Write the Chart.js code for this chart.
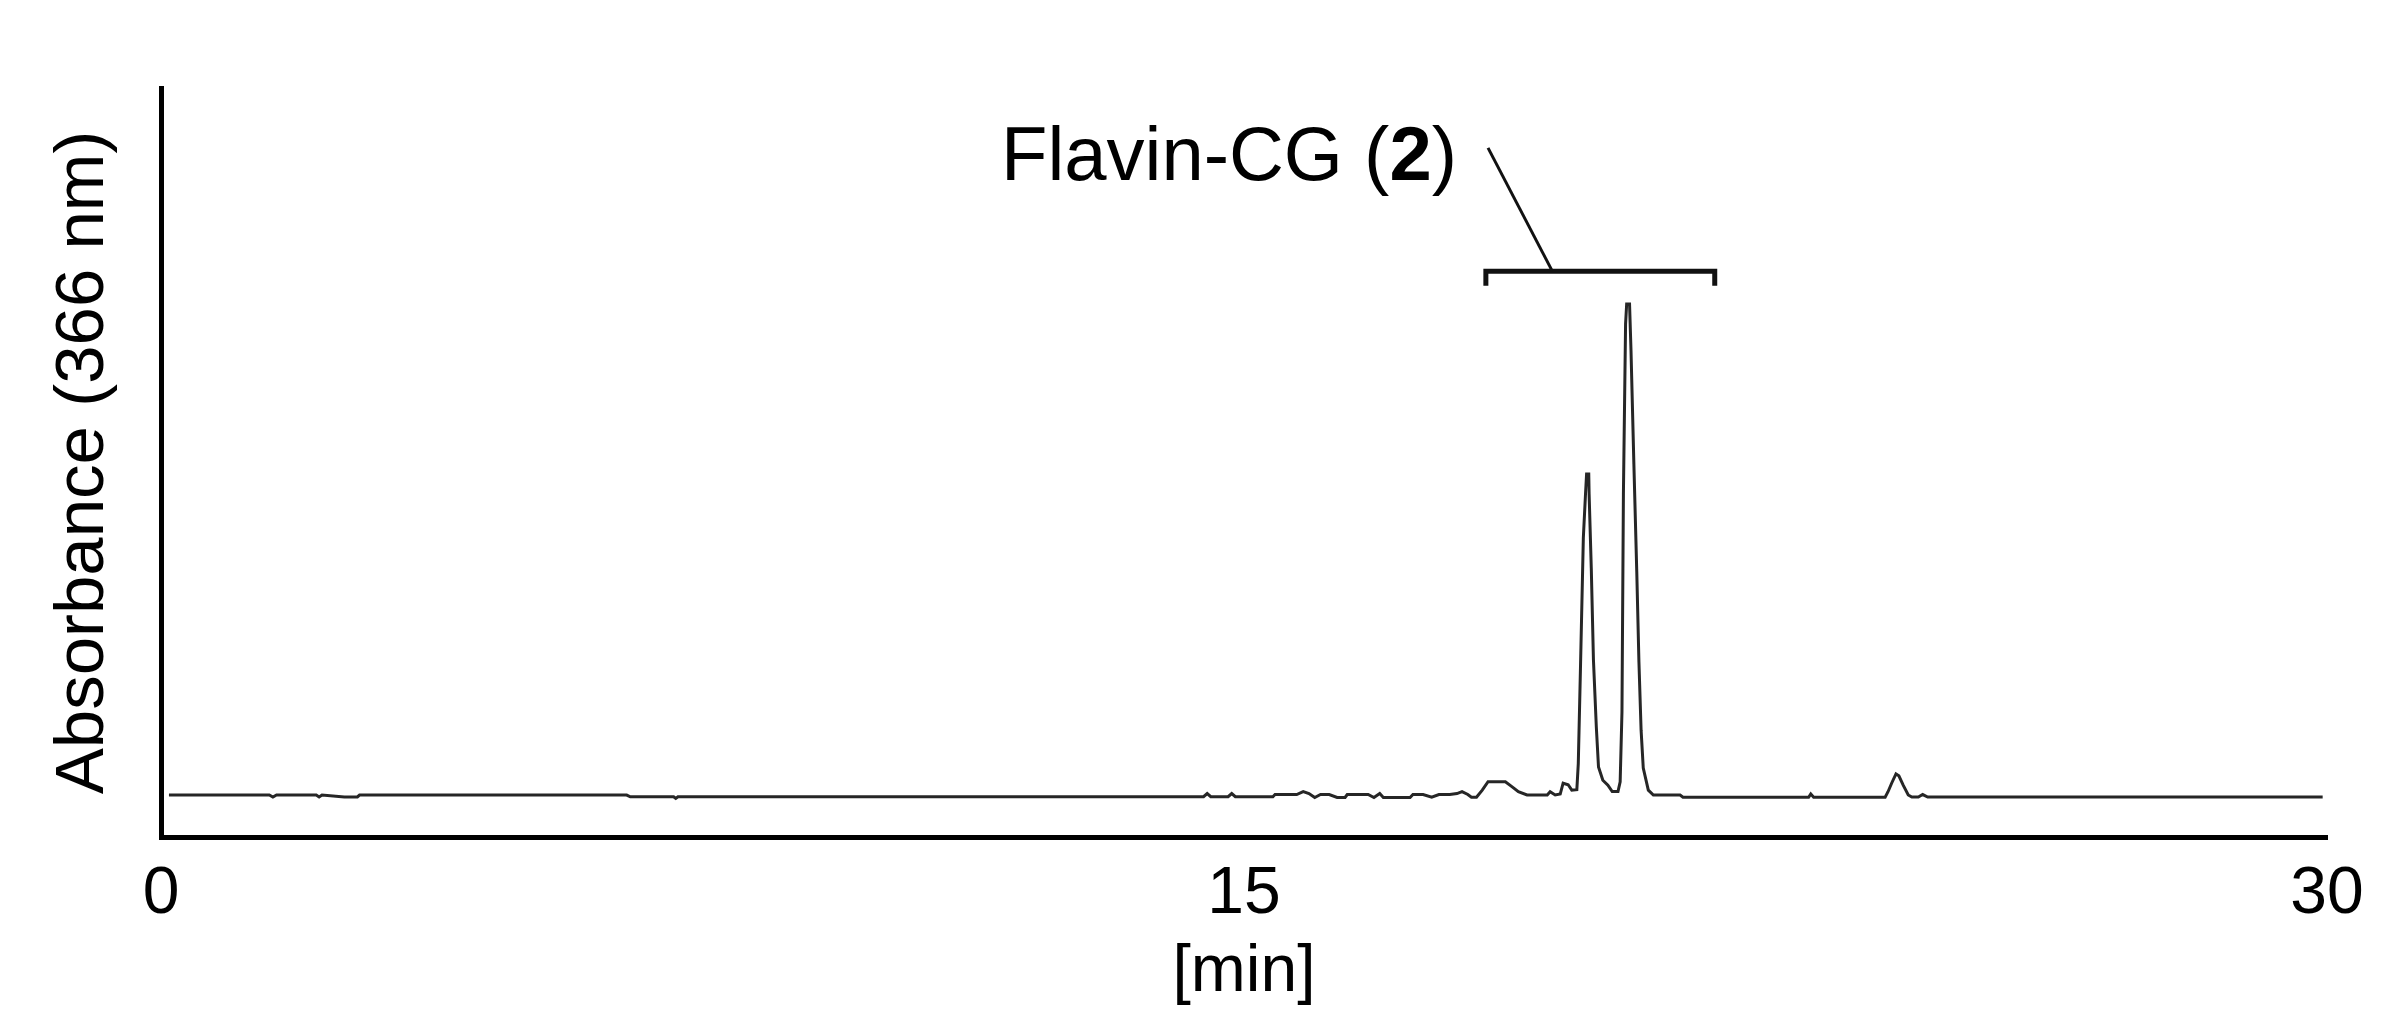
<!DOCTYPE html>
<html>
<head>
<meta charset="utf-8">
<script src="https://cdn.jsdelivr.net/npm/chart.js@4.4.1/dist/chart.umd.min.js"></script>
<style>
  html, body { margin: 0; padding: 0; background: #fff; }
  #wrap { width: 2393px; height: 1030px; position: relative; }
</style>
</head>
<body>
<div id="wrap"><canvas id="chrom"></canvas></div>
<script>
// retention time [min] and detector response (arbitrary units, tallest peak = 100)
const timeMin = [
  0.11, 1.50, 1.55, 1.60, 2.15, 2.19, 2.23, 2.54, 2.72, 2.75,
  6.45, 6.50, 7.10, 7.13, 7.16, 14.44, 14.49, 14.54, 14.78, 14.83,
  14.88, 15.40, 15.43, 15.73, 15.82, 15.90, 15.98, 16.06, 16.18, 16.29,
  16.40, 16.43, 16.72, 16.80, 16.88, 16.93, 17.30, 17.34, 17.48, 17.60,
  17.70, 17.85, 17.95, 18.02, 18.10, 18.15, 18.22, 18.30, 18.38, 18.62,
  18.71, 18.80, 18.92, 19.20, 19.24, 19.31, 19.38, 19.42, 19.49, 19.54,
  19.61, 19.63, 19.66, 19.70, 19.73, 19.745, 19.775, 19.78, 19.81, 19.84,
  19.88, 19.91, 19.97, 20.04, 20.10, 20.18, 20.21, 20.235, 20.255, 20.285,
  20.30, 20.34, 20.36, 20.40, 20.44, 20.47, 20.50, 20.53, 20.60, 20.67,
  21.04, 21.08, 22.82, 22.85, 22.89, 23.88, 23.92, 23.97, 24.03, 24.07,
  24.13, 24.20, 24.25, 24.34, 24.40, 24.47, 29.94
];
const absorbance = [
  0, 0, -0.4, 0, 0, -0.4, 0, -0.4, -0.4, 0,
  0, -0.35, -0.35, -0.7, -0.35, -0.35, 0.3, -0.35, -0.35, 0.3,
  -0.35, -0.35, 0.1, 0.1, 0.7, 0.3, -0.5, 0.1, 0.1, -0.5,
  -0.5, 0.1, 0.1, -0.5, 0.3, -0.5, -0.5, 0.1, 0.1, -0.45,
  0.1, 0.1, 0.3, 0.7, 0.1, -0.45, -0.45, 1.0, 2.7, 2.7,
  1.7, 0.67, 0, 0, 0.67, 0, 0.2, 2.4, 2.1, 1.0,
  1.1, 6.4, 25.7, 52.4, 61.3, 65.4, 65.4, 61.3, 46.2, 27.5,
  13.8, 5.7, 3.0, 2.0, 0.7, 0.7, 2.7, 16.9, 61.3, 95.9,
  100, 100, 90.6, 67.4, 45.5, 27.1, 13.2, 5.5, 1.0, 0,
  0, -0.45, -0.45, 0.2, -0.45, -0.45, 0.67, 2.4, 4.3, 3.9,
  2.0, 0, -0.4, -0.4, 0.1, -0.4, -0.4
];
const xTicks = [0, 15, 30];
const xTitle = "[min]";
const yTitle = "Absorbance (366 nm)";

// peak group label, in data units
const peakLabel = ["Flavin-CG (", "2", ")"];
const bracketFrom = 18.35;
const bracketTo = 21.52;
const bracketLevel = 106.7;
const bracketTip = 103.7;
const leaderStart = [18.38, 131.8];
const leaderEnd = [19.27, 106.7];
const labelAnchor = [17.95, 125.3];

const FONT = "'Liberation Sans', Arial, sans-serif";
Chart.defaults.font.family = FONT;
Chart.defaults.color = "#000";

const peakBracket = {
  id: "peakBracket",
  afterDatasetsDraw(chart) {
    const { ctx, scales: { x, y } } = chart;
    ctx.save();
    ctx.strokeStyle = "#111";
    ctx.lineWidth = 5;
    ctx.lineCap = "butt";
    ctx.lineJoin = "miter";
    ctx.beginPath();
    ctx.moveTo(x.getPixelForValue(bracketFrom), y.getPixelForValue(bracketTip));
    ctx.lineTo(x.getPixelForValue(bracketFrom), y.getPixelForValue(bracketLevel));
    ctx.lineTo(x.getPixelForValue(bracketTo), y.getPixelForValue(bracketLevel));
    ctx.lineTo(x.getPixelForValue(bracketTo), y.getPixelForValue(bracketTip));
    ctx.stroke();

    ctx.lineWidth = 3;
    ctx.beginPath();
    ctx.moveTo(x.getPixelForValue(leaderStart[0]), y.getPixelForValue(leaderStart[1]));
    ctx.lineTo(x.getPixelForValue(leaderEnd[0]), y.getPixelForValue(leaderEnd[1]));
    ctx.stroke();

    const fonts = [`76px ${FONT}`, `bold 76px ${FONT}`, `76px ${FONT}`];
    const widths = peakLabel.map((t, i) => { ctx.font = fonts[i]; return ctx.measureText(t).width; });
    let px = x.getPixelForValue(labelAnchor[0]) - widths.reduce((a, b) => a + b, 0);
    const py = y.getPixelForValue(labelAnchor[1]);
    ctx.fillStyle = "#000";
    ctx.textAlign = "left";
    ctx.textBaseline = "alphabetic";
    peakLabel.forEach((t, i) => {
      ctx.font = fonts[i];
      ctx.fillText(t, px, py);
      px += widths[i];
    });
    ctx.restore();
  }
};

new Chart(document.getElementById("chrom"), {
  type: "line",
  data: {
    datasets: [{
      data: timeMin.map((t, i) => ({ x: t, y: absorbance[i] })),
      borderColor: "#262626",
      borderWidth: 3,
      pointRadius: 0,
      tension: 0,
      fill: false
    }]
  },
  options: {
    responsive: true,
    maintainAspectRatio: false,
    animation: false,
    layout: { padding: { top: 88, right: 66, left: 0, bottom: 0 } },
    plugins: { legend: { display: false }, tooltip: { enabled: false } },
    scales: {
      x: {
        type: "linear",
        min: 0,
        max: 30,
        afterBuildTicks: (scale) => { scale.ticks = xTicks.map((v) => ({ value: v })); },
        afterFit: (scale) => { scale.height = 193; },
        grid: { display: false, drawTicks: false },
        border: { display: true, color: "#000", width: 5 },
        ticks: { font: { size: 66 }, padding: 18, maxRotation: 0, color: "#000" },
        title: { display: true, text: xTitle, font: { size: 66 }, padding: { top: 0, bottom: 18 }, color: "#000" }
      },
      y: {
        min: -8.55,
        max: 144,
        afterFit: (scale) => { scale.width = 161; },
        grid: { display: false, drawTicks: false },
        border: { display: true, color: "#000", width: 5 },
        ticks: { display: false },
        title: { display: true, text: yTitle, font: { size: 69 }, padding: { top: 43, bottom: 0 }, color: "#000" }
      }
    }
  },
  plugins: [peakBracket]
});
</script>
</body>
</html>
